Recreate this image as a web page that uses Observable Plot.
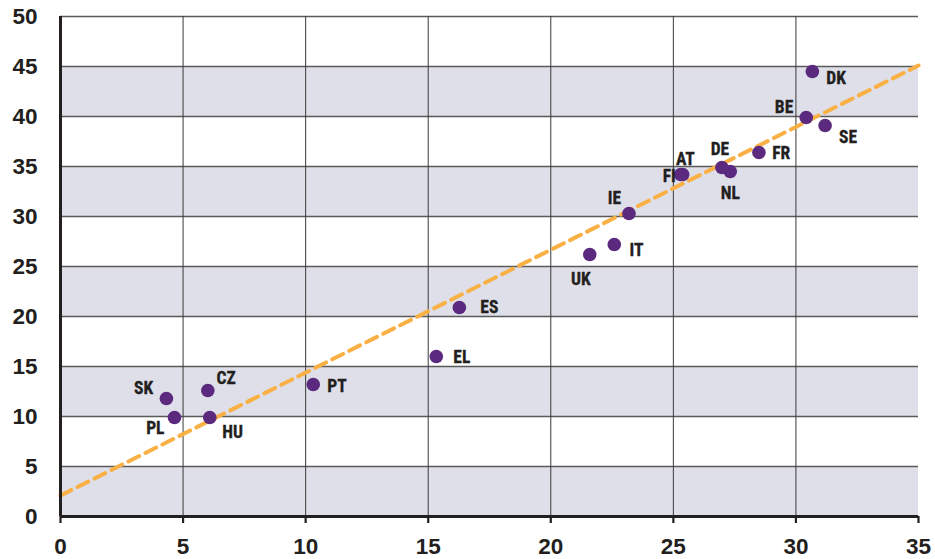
<!DOCTYPE html>
<html>
<head>
<meta charset="utf-8">
<script src="https://cdn.jsdelivr.net/npm/d3@7"></script>
<script src="https://cdn.jsdelivr.net/npm/@observablehq/plot@0.6"></script>
<style>
  html, body { margin: 0; padding: 0; background: #fff; }
  #chart svg { display: block; }
</style>
</head>
<body>
<div id="chart"></div>
<script>
// ---- data ----
const countries = ["DK","BE","SE","FR","DE","NL","AT","FI","IE","IT","UK","ES","EL","PT","CZ","SK","PL","HU"];
const xValues   = [30.67,30.42,31.19,28.49,26.98,27.32,25.38,25.30,23.19,22.59,21.59,16.27,15.33,10.31,6.01,4.32,4.65,6.09];
const yValues   = [44.5, 39.9, 39.1, 36.4, 34.9, 34.5, 34.2, 34.2, 30.3, 27.2, 26.2, 20.9, 16.0, 13.2, 12.6, 11.8, 9.9, 9.9];
const trendX = [0, 35];
const trendY = [2.1, 45.1];
const xTicks = [0, 5, 10, 15, 20, 25, 30, 35];
const yTicks = [0, 5, 10, 15, 20, 25, 30, 35, 40, 45, 50];
const bandStarts = [0, 10, 20, 30, 40];

// label placement (styling)
const labelPlacement = {
  DK: [14, 6.6, "start"], BE: [-13, -9.7, "end"], SE: [14, 12, "start"],
  FR: [13.3, 1, "start"], DE: [-2, -18, "middle"], NL: [0, 21.7, "middle"],
  AT: [2.7, -15, "middle"], FI: [-5, 2, "end"], IE: [-14.5, -15, "middle"],
  IT: [15.3, 6, "start"], UK: [-9, 25, "middle"], ES: [21, 0, "start"],
  EL: [17, 1, "start"], PT: [14, 1.7, "start"], CZ: [8.7, -11.7, "start"],
  SK: [-13.3, -10, "end"], PL: [-10, 11, "end"], HU: [12.4, 14.4, "start"]
};

const points = countries.map((c, i) => ({country: c, x: xValues[i], y: yValues[i]}));
const trend = trendX.map((x, i) => ({x, y: trendY[i]}));

const labelFont = "'Liberation Sans Narrow', 'Arial Narrow', 'Roboto Condensed', 'DejaVu Sans Condensed', sans-serif";

const labelMarks = points.map(p => {
  const [dx, dy, anchor] = labelPlacement[p.country];
  return Plot.text([p], {
    x: "x", y: "y", text: "country", dx, dy, textAnchor: anchor,
    fill: "#231f20", fontSize: 17.5, fontWeight: "bold", fontFamily: labelFont,
    stroke: "#231f20", strokeWidth: 0.3
  });
});

const chart = Plot.plot({
  width: 935,
  height: 559,
  marginTop: 16,
  marginRight: 17,
  marginBottom: 43,
  marginLeft: 60,
  style: { fontFamily: "'Liberation Sans', Arial, sans-serif", background: "#fff", overflow: "visible" },
  x: { domain: [0, 35] },
  y: { domain: [0, 50] },
  marks: [
    Plot.rect(bandStarts, { x1: 0, x2: 35, y1: d => d, y2: d => d + 5, fill: "#dfdfe9" }),
    Plot.ruleY(yTicks.filter(d => d > 0), { x1: 0, x2: 35, stroke: "#5a5a5a", strokeWidth: 1.4 }),
    Plot.ruleX(xTicks.filter(d => d > 0 && d < 35), { y1: 0, y2: 50, stroke: "#3a3a3a", strokeWidth: 1 }),
    Plot.line(trend, { x: "x", y: "y", stroke: "#f9b044", strokeWidth: 4, strokeDasharray: "12,7" }),
    Plot.dot(points, { x: "x", y: "y", r: 6.8, fill: "#5b2a7e", stroke: "none" }),
    ...labelMarks,
    Plot.axisX({ ticks: xTicks, tickSize: 7, tickPadding: 15, strokeWidth: 2.2, stroke: "#231f20",
                 fontSize: 22.5, fontWeight: "bold", fill: "#231f20", tickFormat: d => String(d), label: null }),
    Plot.axisY({ ticks: yTicks, tickSize: 0, tickPadding: 23, fontSize: 22.5, fontWeight: "bold",
                 fill: "#231f20", tickFormat: d => String(d), label: null }),
    Plot.ruleX([0], { y1: 0, y2: 50, stroke: "#231f20", strokeWidth: 3 }),
    Plot.ruleY([0], { x1: 0, x2: 35, stroke: "#231f20", strokeWidth: 3 })
  ]
});
document.getElementById("chart").append(chart);
</script>
</body>
</html>
